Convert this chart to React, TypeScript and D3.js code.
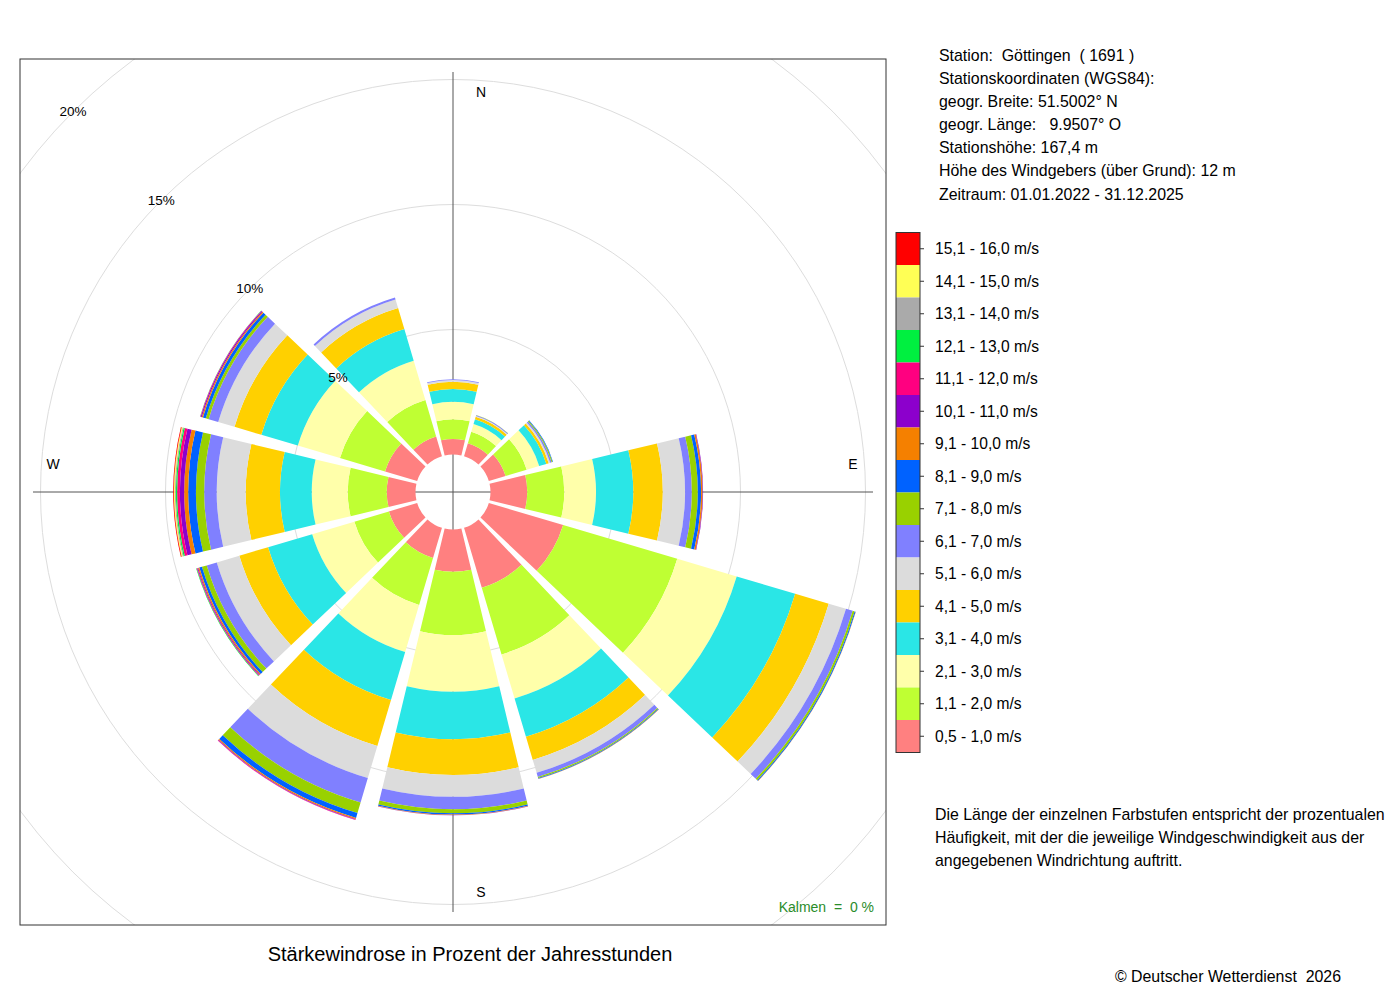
import { arc, scaleLinear } from 'd3'
import { useMemo } from 'react'

// speed classes, bottom (inner) to top (outer)
const speedClasses = [
  '0,5 - 1,0 m/s', '1,1 - 2,0 m/s', '2,1 - 3,0 m/s', '3,1 - 4,0 m/s',
  '4,1 - 5,0 m/s', '5,1 - 6,0 m/s', '6,1 - 7,0 m/s', '7,1 - 8,0 m/s',
  '8,1 - 9,0 m/s', '9,1 - 10,0 m/s', '10,1 - 11,0 m/s', '11,1 - 12,0 m/s',
  '12,1 - 13,0 m/s', '13,1 - 14,0 m/s', '14,1 - 15,0 m/s', '15,1 - 16,0 m/s',
]
const classColors = [
  '#ff8080', '#bfff33', '#ffffaa', '#2ae6e6',
  '#ffd000', '#dcdcdc', '#8080ff', '#99d100',
  '#0062ff', '#f58000', '#8c00cc', '#ff0080',
  '#00f040', '#aaaaaa', '#ffff55', '#ff0000',
]

// direction of each sector in degrees (clockwise from north)
const sectorAngles = [0, 30, 60, 90, 120, 150, 180, 210, 240, 270, 300, 330]

// percent of hours per speed class, one array per sector
const freqN = [0.62, 0.79, 0.7, 0.51, 0.29, 0.07, 0.03]
const freqNNE = [0.54, 0.48, 0.32, 0.2, 0.1, 0.04, 0.03, 0.01]
const freqNE = [0.7, 0.88, 0.52, 0.3, 0.1, 0.06, 0.06, 0.04, 0.02]
const freqE = [1.47, 1.48, 1.27, 1.49, 1.18, 0.89, 0.27, 0.24, 0.13, 0.06, 0.02]
const freqESE = [3.1, 4.76, 2.48, 2.44, 1.4, 0.72, 0.28, 0.08, 0.04, 0.01]
const freqSSE = [2.5, 2.78, 1.84, 1.6, 0.96, 0.54, 0.17, 0.05, 0.03, 0.01]
const freqS = [1.69, 2.53, 2.27, 1.9, 1.43, 0.87, 0.5, 0.16, 0.05, 0.02, 0.01]
const freqSSW = [1.26, 1.96, 1.96, 2.0, 1.92, 1.34, 1.02, 0.44, 0.2, 0.05, 0.02, 0.02]
const freqWSW = [1.18, 1.44, 1.76, 1.84, 1.2, 0.94, 0.42, 0.2, 0.11, 0.05, 0.03, 0.03, 0.02]
const freqW = [1.15, 1.56, 1.44, 1.27, 1.37, 1.16, 0.5, 0.33, 0.31, 0.16, 0.17, 0.11, 0.05, 0.04, 0.04, 0.03]
const freqWNW = [1.34, 1.88, 1.76, 1.52, 1.12, 0.68, 0.4, 0.12, 0.12, 0.05, 0.04, 0.02, 0.01]
const freqNNW = [0.82, 1.52, 1.64, 1.32, 0.88, 0.36, 0.08]

const sectorFreqs = [freqN, freqNNE, freqNE, freqE, freqESE, freqSSE, freqS, freqSSW, freqWSW, freqW, freqWNW, freqNNW]

const ringValues = [5, 10, 15, 20]
const compassLabels = [
  { label: 'N', angle: 0 },
  { label: 'E', angle: 90 },
  { label: 'S', angle: 180 },
  { label: 'W', angle: 270 },
]

const stationLines = [
  'Station:  Göttingen  ( 1691 )',
  'Stationskoordinaten (WGS84):',
  'geogr. Breite: 51.5002° N',
  'geogr. Länge:   9.9507° O',
  'Stationshöhe: 167,4 m',
  'Höhe des Windgebers (über Grund): 12 m',
  'Zeitraum: 01.01.2022 - 31.12.2025',
]
const noteLines = [
  'Die Länge der einzelnen Farbstufen entspricht der prozentualen',
  'Häufigkeit, mit der die jeweilige Windgeschwindigkeit aus der',
  'angegebenen Windrichtung auftritt.',
]

const width = 1400
const height = 1000
const panel = { x: 20, y: 59, size: 866 }
const cx = 453
const cy = 492
const halfSector = 13.5
const font = '"Liberation Sans", Arial, Helvetica, sans-serif'
const pre = { whiteSpace: 'pre' as const }

const rad = (deg: number) => (deg * Math.PI) / 180

const WindRose = () => {
  const r = useMemo(() => scaleLinear().domain([0, 20]).range([37.5, 537.5]), [])

  const segments = useMemo(() => {
    const path = arc<any>().padAngle(0.004).padRadius(200)
    const out: { d: string; fill: string; key: string }[] = []
    sectorFreqs.forEach((freqs, i) => {
      const angle = sectorAngles[i]
      let cum = 0
      freqs.forEach((v, k) => {
        if (v <= 0) return
        const d = path({
          innerRadius: r(cum),
          outerRadius: r(cum + v),
          startAngle: rad(angle - halfSector),
          endAngle: rad(angle + halfSector),
        })
        cum += v
        out.push({ d: d ?? '', fill: classColors[k], key: `${i}-${k}` })
      })
    })
    return out
  }, [r])

  const axisLen = 420
  const legendTop = 232.5
  const legendStep = 32.5

  return (
    <svg
      width={width}
      height={height}
      viewBox={`0 0 ${width} ${height}`}
      style={{ position: 'absolute', left: 0, top: 0, background: '#fff' }}
      fontFamily={font}
    >
      <defs>
        <clipPath id="panel-clip">
          <rect x={panel.x} y={panel.y} width={panel.size} height={panel.size} />
        </clipPath>
      </defs>

      <g clipPath="url(#panel-clip)">
        {ringValues.map((v) => (
          <circle key={v} cx={cx} cy={cy} r={r(v)} fill="none" stroke="#dddddd" strokeWidth={1} />
        ))}
        <line x1={cx} x2={cx} y1={cy - axisLen} y2={cy + axisLen} stroke="#555" strokeWidth={1} />
        <line x1={cx - axisLen} x2={cx + axisLen} y1={cy} y2={cy} stroke="#555" strokeWidth={1} />

        <g transform={`translate(${cx},${cy})`}>
          {segments.map((s) => (
            <path key={s.key} d={s.d} fill={s.fill} />
          ))}
        </g>

        {ringValues.map((v) => (
          <text
            key={v}
            x={cx - r(v) * Math.SQRT1_2}
            y={cy - r(v) * Math.SQRT1_2}
            textAnchor="middle"
            dominantBaseline="central"
            fontSize={13.5}
            fill="#000"
          >
            {v}%
          </text>
        ))}

        {compassLabels.map(({ label, angle }) => {
          const x = cx + 400 * Math.sin(rad(angle)) + (angle % 180 === 0 ? 28 : 0)
          const y = cy - 400 * Math.cos(rad(angle)) - (angle % 180 === 0 ? 0 : 28)
          return (
            <text key={label} x={x} y={y} textAnchor="middle" dominantBaseline="central" fontSize={14}>
              {label}
            </text>
          )
        })}

        <text x={874} y={907} textAnchor="end" dominantBaseline="central" fontSize={14} fill="#2a8c2a" style={pre}>
          {'Kalmen  =  0 %'}
        </text>
      </g>

      <rect
        x={panel.x}
        y={panel.y}
        width={panel.size}
        height={panel.size}
        fill="none"
        stroke="#333"
        strokeWidth={1}
      />

      <text x={470} y={954} textAnchor="middle" dominantBaseline="central" fontSize={20}>
        Stärkewindrose in Prozent der Jahresstunden
      </text>

      {stationLines.map((line, i) => (
        <text key={i} x={939} y={55 + i * 23.17} dominantBaseline="central" fontSize={15.9} style={pre}>
          {line}
        </text>
      ))}

      <g>
        {speedClasses.map((label, k) => {
          const idx = speedClasses.length - 1 - k
          const y = legendTop + k * legendStep
          return (
            <g key={label}>
              <rect x={896} y={y} width={24} height={legendStep} fill={classColors[idx]} />
              <line x1={920} x2={924} y1={y + legendStep / 2} y2={y + legendStep / 2} stroke="#333" />
              <text x={935} y={y + legendStep / 2} dominantBaseline="central" fontSize={15.6}>
                {speedClasses[idx]}
              </text>
            </g>
          )
        })}
        <rect
          x={896}
          y={legendTop}
          width={24}
          height={legendStep * speedClasses.length}
          fill="none"
          stroke="#333"
          strokeWidth={1}
        />
      </g>

      {noteLines.map((line, i) => (
        <text key={i} x={935} y={814 + i * 23} dominantBaseline="central" fontSize={15.9}>
          {line}
        </text>
      ))}

      <text x={1341} y={976} textAnchor="end" dominantBaseline="central" fontSize={15.9} style={pre}>
        {'© Deutscher Wetterdienst  2026'}
      </text>
    </svg>
  )
}

export default function App() {
  return <WindRose />
}
